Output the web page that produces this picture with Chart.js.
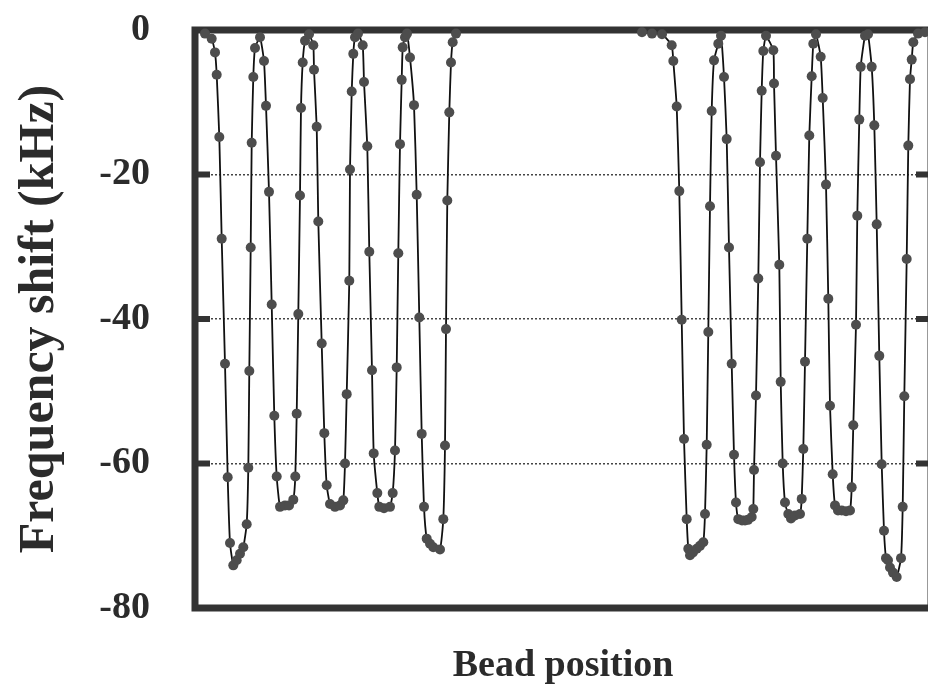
<!DOCTYPE html>
<html>
<head>
<meta charset="utf-8">
<script src="https://cdn.jsdelivr.net/npm/chart.js@4/dist/chart.umd.min.js"></script>
<style>
  html, body { margin: 0; padding: 0; background: #fff; overflow: hidden; }
  #wrap { width: 928px; height: 699px; overflow: hidden; }
</style>
</head>
<body>
<div id="wrap"><canvas id="canvas" width="940" height="699"></canvas></div>
<script>
// bead pulled along the first section (x) and the measured shift (kHz)
const leftBeads = [10, 16.7, 20, 21.7, 24.3, 26.7, 30, 32.7, 35, 38.3, 41.7, 45, 48.3, 51.7, 53.3, 54.3, 55.7, 56.7, 58.3, 60,
  65, 69, 71, 74, 76.7, 79.3, 81.7, 85, 90, 94, 98.3, 100.3, 101.7, 103.3, 105, 106, 107.7, 110, 114,
  118.3, 119, 121.7, 123.3, 126.7, 129.3, 131.7, 135, 140, 145, 148.3, 150, 151.7, 154.3, 155, 156.7, 158.3, 160, 163,
  167.7, 169, 172.3, 174.3, 177, 178.7, 182.3, 184.3, 189, 195, 197.7, 200, 201.7, 203.3, 205, 206.7, 207.7, 210, 212,
  215, 219, 221.7, 224.3, 226.7, 229, 231.7, 235, 238.3, 245, 248.3, 250, 251, 252.3, 254.3, 256, 257.7, 261];
const leftShift = [-0.5, -1.2, -3.1, -6.2, -14.8, -28.9, -46.2, -61.9, -71.0, -74.1, -73.4, -72.5, -71.6, -68.4, -60.6, -47.2, -30.1, -15.6, -6.5, -2.5,
  -1.0, -4.3, -10.5, -22.4, -38.0, -53.4, -61.8, -66.0, -65.8, -65.8, -65.0, -61.8, -53.1, -39.3, -22.9, -10.8, -4.5, -1.5, -0.6,
  -2.1, -5.5, -13.4, -26.5, -43.4, -55.8, -63.0, -65.6, -66.0, -65.8, -65.1, -60.0, -50.4, -34.7, -19.3, -8.5, -3.3, -1.0, -0.5,
  -2.1, -7.2, -16.1, -30.7, -47.1, -58.6, -64.1, -66.0, -66.2, -66.0, -64.1, -58.2, -46.7, -30.9, -15.8, -6.9, -2.4, -1.0, -0.5,
  -3.8, -10.4, -22.8, -39.8, -55.9, -66.0, -70.4, -71.1, -71.6, -71.9, -67.7, -57.5, -41.4, -23.6, -11.4, -4.5, -1.7, -0.5];

// second section
const rightBeads = [447, 457, 467, 476.7, 478.3, 481.7, 484.3, 486.7, 489, 491.7, 493.3, 495, 498, 501.7, 505, 508.3, 510, 511.7, 513.3, 515, 516.7, 519, 523.3,
  526, 529, 531.7, 534, 536.7, 539, 541, 543.3, 547, 550, 553, 556.7, 558.3, 559, 561, 563.3, 565, 566.7, 568.3, 571,
  578.3, 579, 581, 584.3, 585.7, 587.7, 590, 593.3, 596, 600, 605, 606.7, 608.3, 610, 612.3, 614.3, 616.7, 618.3, 621,
  625.7, 627.7, 631, 633.3, 635, 637.7, 640, 643, 646.7, 651, 655, 656.7, 658.3, 661, 662.3, 664.3, 665.7, 670,
  673, 676.7, 679.3, 681.7, 684.3, 686.7, 689, 691, 693, 695, 698, 701.7, 706, 707.7, 709.3, 711.7, 713.3, 715, 716.7, 718.3, 723, 730];
const rightShift = [-0.3, -0.5, -0.6, -2.1, -4.3, -10.6, -22.3, -40.1, -56.6, -67.7, -71.8, -72.7, -72.3, -71.8, -71.4, -70.9, -67.0, -57.4, -41.8, -24.4, -11.2, -4.2, -1.9,
  -0.8, -6.5, -15.1, -30.1, -46.2, -58.8, -65.4, -67.7, -67.9, -67.9, -67.8, -67.4, -66.3, -60.9, -50.6, -34.4, -18.3, -8.4, -2.9, -0.8,
  -2.8, -7.4, -17.4, -32.5, -48.7, -60.0, -65.4, -67.0, -67.6, -67.2, -67.0, -64.9, -58.0, -45.9, -28.9, -14.6, -6.4, -1.9, -0.6,
  -3.7, -9.4, -21.4, -37.2, -52.0, -61.5, -65.8, -66.5, -66.5, -66.6, -66.5, -63.3, -54.7, -40.8, -25.7, -12.4, -5.1, -0.8,
  -0.6, -5.1, -13.2, -26.9, -45.1, -60.1, -69.3, -73.1, -73.4, -74.4, -75.1, -75.7, -73.1, -66.0, -50.7, -31.7, -16.0, -6.8, -4.1, -1.7, -0.5, -0.3];

const yTicks = [0, -20, -40, -60, -80];

function pairs(xs, ys) {
  return xs.map((x, i) => ({ x: x, y: ys[i] }));
}

const serif = '"Liberation Serif", "Times New Roman", serif';
const ink = '#2b2b2b';

function series(data) {
  return {
    data: data,
    showLine: true,
    borderColor: '#111',
    borderWidth: 1.8,
    tension: 0.15,
    pointRadius: 5,
    pointBackgroundColor: '#4d4d4d',
    pointBorderColor: '#4d4d4d',
    pointBorderWidth: 0,
    clip: false
  };
}

// thick box round the plot plus short inward ticks on both sides
const frame = {
  id: 'frame',
  beforeDatasetsDraw(chart) {
    const a = chart.chartArea;
    const y = chart.scales.y;
    const ctx = chart.ctx;
    ctx.save();
    ctx.strokeStyle = '#333';
    ctx.lineWidth = 7;
    ctx.strokeRect(a.left, a.top, a.right - a.left, a.bottom - a.top);
    ctx.lineWidth = 6;
    y.ticks.forEach(t => {
      if (t.value === y.min || t.value === y.max) return;
      const py = y.getPixelForValue(t.value);
      ctx.beginPath();
      ctx.moveTo(a.left, py);
      ctx.lineTo(a.left + 15, py);
      ctx.moveTo(a.right - 15, py);
      ctx.lineTo(a.right, py);
      ctx.stroke();
    });
    ctx.restore();
  }
};

const ctx = document.getElementById('canvas').getContext('2d');
const myChart = new Chart(ctx, {
  type: 'scatter',
  data: {
    datasets: [series(pairs(leftBeads, leftShift)), series(pairs(rightBeads, rightShift))]
  },
  options: {
    responsive: false,
    animation: false,
    devicePixelRatio: 1,
    layout: { padding: { top: 30, right: 9, left: 0, bottom: 0 } },
    plugins: { legend: { display: false }, tooltip: { enabled: false } },
    scales: {
      x: {
        type: 'linear',
        min: 0,
        max: 736,
        ticks: { display: false },
        grid: { display: false },
        border: { display: false },
        title: {
          display: true,
          text: 'Bead position',
          color: ink,
          font: { family: serif, size: 38, weight: 'bold' },
          padding: { top: 0, bottom: 10 }
        },
        afterFit(scale) { scale.height = 91; }
      },
      y: {
        type: 'linear',
        min: -80,
        max: 0,
        afterBuildTicks(scale) { scale.ticks = yTicks.map(v => ({ value: v })); },
        ticks: {
          color: ink,
          padding: 0,
          font: { family: serif, size: 38, weight: 'bold' }
        },
        grid: {
          drawTicks: true,
          tickLength: 45,
          tickColor: 'rgba(0,0,0,0)',
          lineWidth: 1.5,
          color: c => (c.tick && (c.tick.value === 0 || c.tick.value === -80)) ? 'rgba(0,0,0,0)' : '#444'
        },
        border: { display: false, dash: [2, 2] },
        title: {
          display: true,
          text: 'Frequency shift (kHz)',
          color: ink,
          font: { family: serif, size: 50, weight: 'bold' },
          padding: { top: 10, bottom: 0 }
        },
        afterFit(scale) { scale.width = 195; }
      }
    }
  },
  plugins: [frame]
});
</script>
</body>
</html>
